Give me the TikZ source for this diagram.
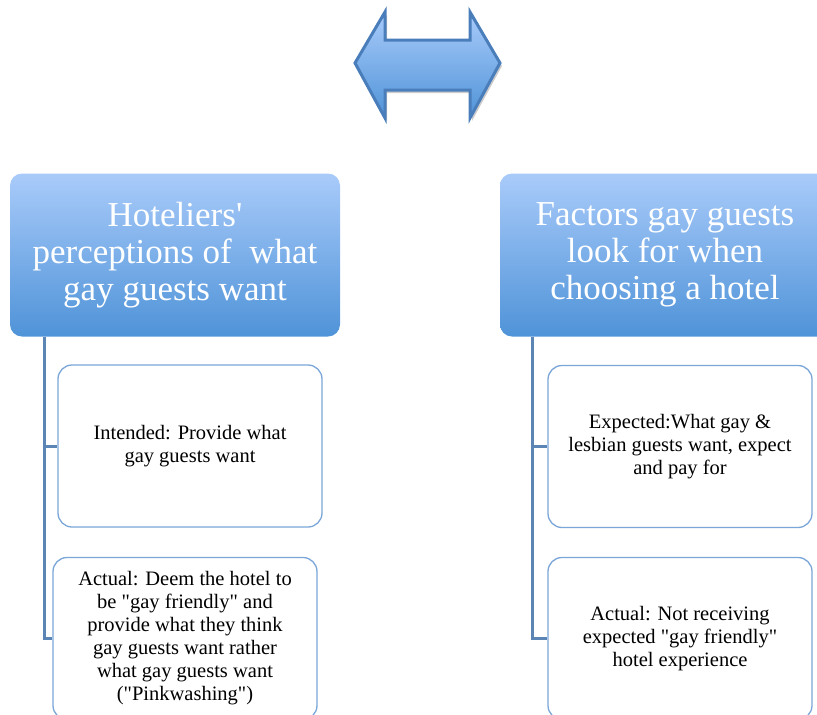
\documentclass[tikz,border=0pt]{standalone}
\usepackage{fontspec}
\setmainfont{Liberation Serif}
\usepackage{tikz}
\usetikzlibrary{shapes,arrows,positioning}

\definecolor{boxtop}{HTML}{A9CBFA}
\definecolor{boxbot}{HTML}{4F93D8}
\definecolor{arrowedge}{HTML}{4A7EBB}
\definecolor{itemedge}{HTML}{7BA6D8}
\definecolor{treeline}{HTML}{5A85B5}

\begin{document}
\begin{tikzpicture}[x=1pt,y=-1pt,semithick]
\tikzstyle{head}=[rounded corners=12pt,top color=boxtop,bottom color=boxbot,text=white,
  minimum width=330pt,minimum height=163pt,inner sep=0pt,align=center,font=\fontsize{35}{37}\selectfont]
\tikzstyle{item}=[draw=itemedge,line width=1.3pt,rounded corners=14pt,fill=white,text=black,
  minimum width=264pt,minimum height=162pt,inner sep=0pt,align=center,font=\fontsize{20.5}{23}\selectfont]
\tikzstyle{tree}=[draw=treeline,line width=3pt]
\useasboundingbox (0,0) rectangle (817,715);
% double arrow on top
\fill[gray!40,xshift=2pt,yshift=-3pt] (355,63) -- (385,12) -- (385,40) -- (470,40) -- (470,12)
  -- (500,63) -- (470,118) -- (470,90) -- (385,90) -- (385,118) -- cycle;
\draw[arrowedge,line width=3pt,line join=miter,top color=boxtop,bottom color=boxbot]
  (355,63) -- (385,12) -- (385,40) -- (470,40) -- (470,12) -- (500,63)
  -- (470,118) -- (470,90) -- (385,90) -- (385,118) -- cycle;
% left column
\node[head] (hoteliers) at (175,255) {Hoteliers\textquotesingle\\perceptions of~ what\\gay guests want};
\node[item] (intended) at (190,446) {Intended: Provide what\\gay guests want};
\node[item] (actualL) at (185,638.5) {Actual: Deem the hotel to\\be \textquotedbl gay friendly\textquotedbl{} and\\provide what they think\\gay guests want rather\\what gay guests want\\(\textquotedbl Pinkwashing\textquotedbl)};
% right column
\node[head] (factors) at (665,255) {Factors gay guests\\look for when\\choosing a hotel};
\node[item] (expected) at (680,446.5) {Expected:What gay \&\\lesbian guests want, expect\\and pay for};
\node[item] (actualR) at (680,638.5) {Actual: Not receiving\\expected \textquotedbl gay friendly\textquotedbl\\hotel experience};
\coordinate (lroot) at ([xshift=35pt]hoteliers.south west);
\coordinate (rroot) at ([xshift=33pt]factors.south west);
\draw[tree] (lroot) |- (intended.west);
\draw[tree] (lroot) |- (actualL.west);
\draw[tree] (rroot) |- (expected.west);
\draw[tree] (rroot) |- (actualR.west);
\end{tikzpicture}
\end{document}
